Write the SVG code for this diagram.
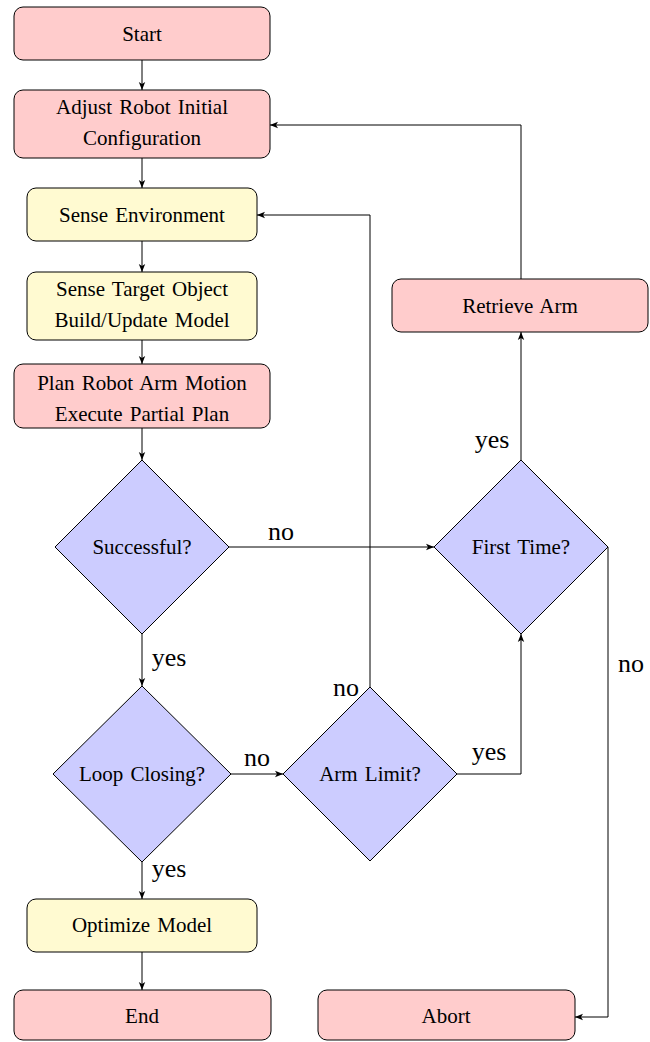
<svg xmlns="http://www.w3.org/2000/svg" width="650" height="1042" viewBox="0 0 650 1042">
<style>
.red{fill:#ffcccc;stroke:#000;stroke-width:1}
.yel{fill:#fffad1;stroke:#000;stroke-width:1}
.blu{fill:#ccccff;stroke:#000;stroke-width:1}
.t{font-family:"Liberation Serif","Times New Roman",serif;font-size:21px;text-anchor:middle;fill:#000;word-spacing:2px}
.lbl{font-family:"Liberation Serif","Times New Roman",serif;font-size:26px;text-anchor:middle;fill:#000}
.c{fill:none;stroke:#000;stroke-width:1}
</style>
<defs>
<marker id="ah" viewBox="0 0 10 10" refX="10" refY="5" markerWidth="8" markerHeight="8" markerUnits="userSpaceOnUse" orient="auto">
<path d="M0,1 L10,5 L0,9 L2.5,5 Z" fill="#000"/>
</marker>
</defs>
<g id="connectors">
<path class="c" d="M142,60 V90" marker-end="url(#ah)"/>
<path class="c" d="M142,158 V188" marker-end="url(#ah)"/>
<path class="c" d="M142,241 V272" marker-end="url(#ah)"/>
<path class="c" d="M142,340 V364" marker-end="url(#ah)"/>
<path class="c" d="M142,428 V460" marker-end="url(#ah)"/>
<path class="c" d="M229,547 H434" marker-end="url(#ah)"/>
<path class="c" d="M142,634 V686" marker-end="url(#ah)"/>
<path class="c" d="M231,774 H283" marker-end="url(#ah)"/>
<path class="c" d="M142,862 V899" marker-end="url(#ah)"/>
<path class="c" d="M142,952 V990" marker-end="url(#ah)"/>
<path class="c" d="M370,687 V215 H257" marker-end="url(#ah)"/>
<path class="c" d="M457,774 H521 V634" marker-end="url(#ah)"/>
<path class="c" d="M521,460 V332" marker-end="url(#ah)"/>
<path class="c" d="M521,279 V125 H270" marker-end="url(#ah)"/>
<path class="c" d="M608,547 V1017 H575" marker-end="url(#ah)"/>
<text class="lbl" x="281" y="540">no</text>
<text class="lbl" x="169" y="666">yes</text>
<text class="lbl" x="257" y="766">no</text>
<text class="lbl" x="346" y="696">no</text>
<text class="lbl" x="489" y="760">yes</text>
<text class="lbl" x="169" y="877">yes</text>
<text class="lbl" x="492" y="448">yes</text>
<text class="lbl" x="631" y="672">no</text>
</g>
<g id="start"><rect class="red" x="14" y="7" width="256" height="53" rx="9"/><text class="t" x="142" y="41">Start</text></g>
<g id="adjust"><rect class="red" x="14" y="90" width="256" height="68" rx="9"/><text class="t" x="142" y="114">Adjust Robot Initial</text><text class="t" x="142" y="145">Configuration</text></g>
<g id="senseenv"><rect class="yel" x="27" y="188" width="230" height="53" rx="9"/><text class="t" x="142" y="222">Sense Environment</text></g>
<g id="sensetarget"><rect class="yel" x="27" y="272" width="230" height="68" rx="9"/><text class="t" x="142" y="296">Sense Target Object</text><text class="t" x="142" y="327">Build/Update Model</text></g>
<g id="plan"><rect class="red" x="14" y="364" width="256" height="64" rx="9"/><text class="t" x="142" y="390">Plan Robot Arm Motion</text><text class="t" x="142" y="421">Execute Partial Plan</text></g>
<g id="successful"><polygon class="blu" points="142,460 229,547 142,634 55,547"/><text class="t" x="142" y="554">Successful?</text></g>
<g id="firsttime"><polygon class="blu" points="521,460 608,547 521,634 434,547"/><text class="t" x="521" y="554">First Time?</text></g>
<g id="retrieve"><rect class="red" x="392" y="279" width="256" height="53" rx="9"/><text class="t" x="520" y="313">Retrieve Arm</text></g>
<g id="loopclosing"><polygon class="blu" points="142,686 231,774 142,862 53,774"/><text class="t" x="142" y="781">Loop Closing?</text></g>
<g id="armlimit"><polygon class="blu" points="370,687 457,774 370,861 283,774"/><text class="t" x="370" y="781">Arm Limit?</text></g>
<g id="optimize"><rect class="yel" x="27" y="899" width="230" height="53" rx="9"/><text class="t" x="142" y="932">Optimize Model</text></g>
<g id="end"><rect class="red" x="14" y="990" width="257" height="50" rx="9"/><text class="t" x="142" y="1023">End</text></g>
<g id="abort"><rect class="red" x="318" y="990" width="257" height="50" rx="9"/><text class="t" x="446" y="1023">Abort</text></g>
</svg>
